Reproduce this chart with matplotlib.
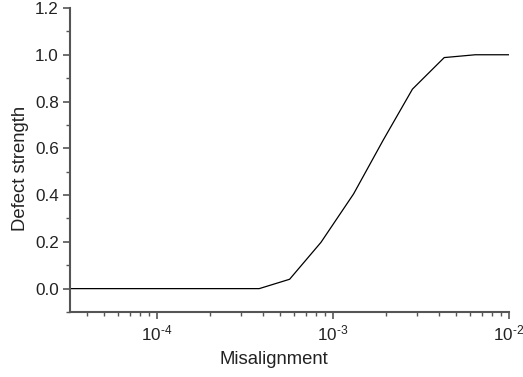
import matplotlib
matplotlib.use("Agg")
import matplotlib.pyplot as plt
from matplotlib.ticker import LogLocator, MultipleLocator, FixedLocator, FixedFormatter, NullFormatter

misalignment = [3.2e-5, 3.81e-4, 5.67e-4, 8.55e-4, 1.31e-3, 1.93e-3, 2.83e-3, 4.29e-3, 6.44e-3, 1.0e-2]
defect_strength = [0.0, 0.0, 0.04, 0.198, 0.405, 0.635, 0.853, 0.988, 1.0, 1.0]
xtick_vals = [1e-4, 1e-3, 1e-2]
xtick_labels = ["10$^{\\text{-}4}$", "10$^{\\text{-}3}$", "10$^{\\text{-}2}$"]
ytick_vals = [0.0, 0.2, 0.4, 0.6, 0.8, 1.0, 1.2]

plt.rcParams['font.family'] = ['Liberation Sans', 'DejaVu Sans']
plt.rcParams['mathtext.fontset'] = 'custom'
plt.rcParams['mathtext.rm'] = 'Liberation Sans'
plt.rcParams['mathtext.it'] = 'Liberation Sans:italic'
plt.rcParams['mathtext.bf'] = 'Liberation Sans:bold'

fig = plt.figure(figsize=(5.23, 3.77), dpi=100)
ax = fig.add_axes([0.1338, 0.1724, 0.973 - 0.1338, 0.9788 - 0.1724])
ax.plot(misalignment, defect_strength, color='black', lw=0.9)
ax.set_xscale('log')
ax.set_xlim(3.2e-5, 1e-2)
ax.set_ylim(-0.1, 1.2)

spine_col = '#555555'
for s in ['top', 'right']:
    ax.spines[s].set_visible(False)
for s in ['left', 'bottom']:
    ax.spines[s].set_color(spine_col)
    ax.spines[s].set_linewidth(1.5)

ax.xaxis.set_major_locator(FixedLocator(xtick_vals))
ax.xaxis.set_major_formatter(FixedFormatter(xtick_labels))
ax.xaxis.set_minor_locator(LogLocator(base=10, subs=range(2, 10), numticks=20))
ax.xaxis.set_minor_formatter(NullFormatter())
ax.yaxis.set_major_locator(FixedLocator(ytick_vals))
ax.set_yticklabels([f"{v:.1f}" for v in ytick_vals])
ax.yaxis.set_minor_locator(MultipleLocator(0.1))

ax.tick_params(which='major', direction='out', length=5, width=1.2, color=spine_col,
               labelsize=12.3, labelcolor='#222222', pad=3)
ax.tick_params(which='minor', direction='out', length=3, width=1.0, color=spine_col)

ax.set_xlabel('Misalignment', fontsize=13.3, color='#222222')
ax.set_ylabel('Defect strength', fontsize=13.3, color='#222222')
ax.xaxis.set_label_coords(0.465, -0.128)
ax.yaxis.set_label_coords(-0.093, 0.472)

fig.savefig('out.png', dpi=100)
